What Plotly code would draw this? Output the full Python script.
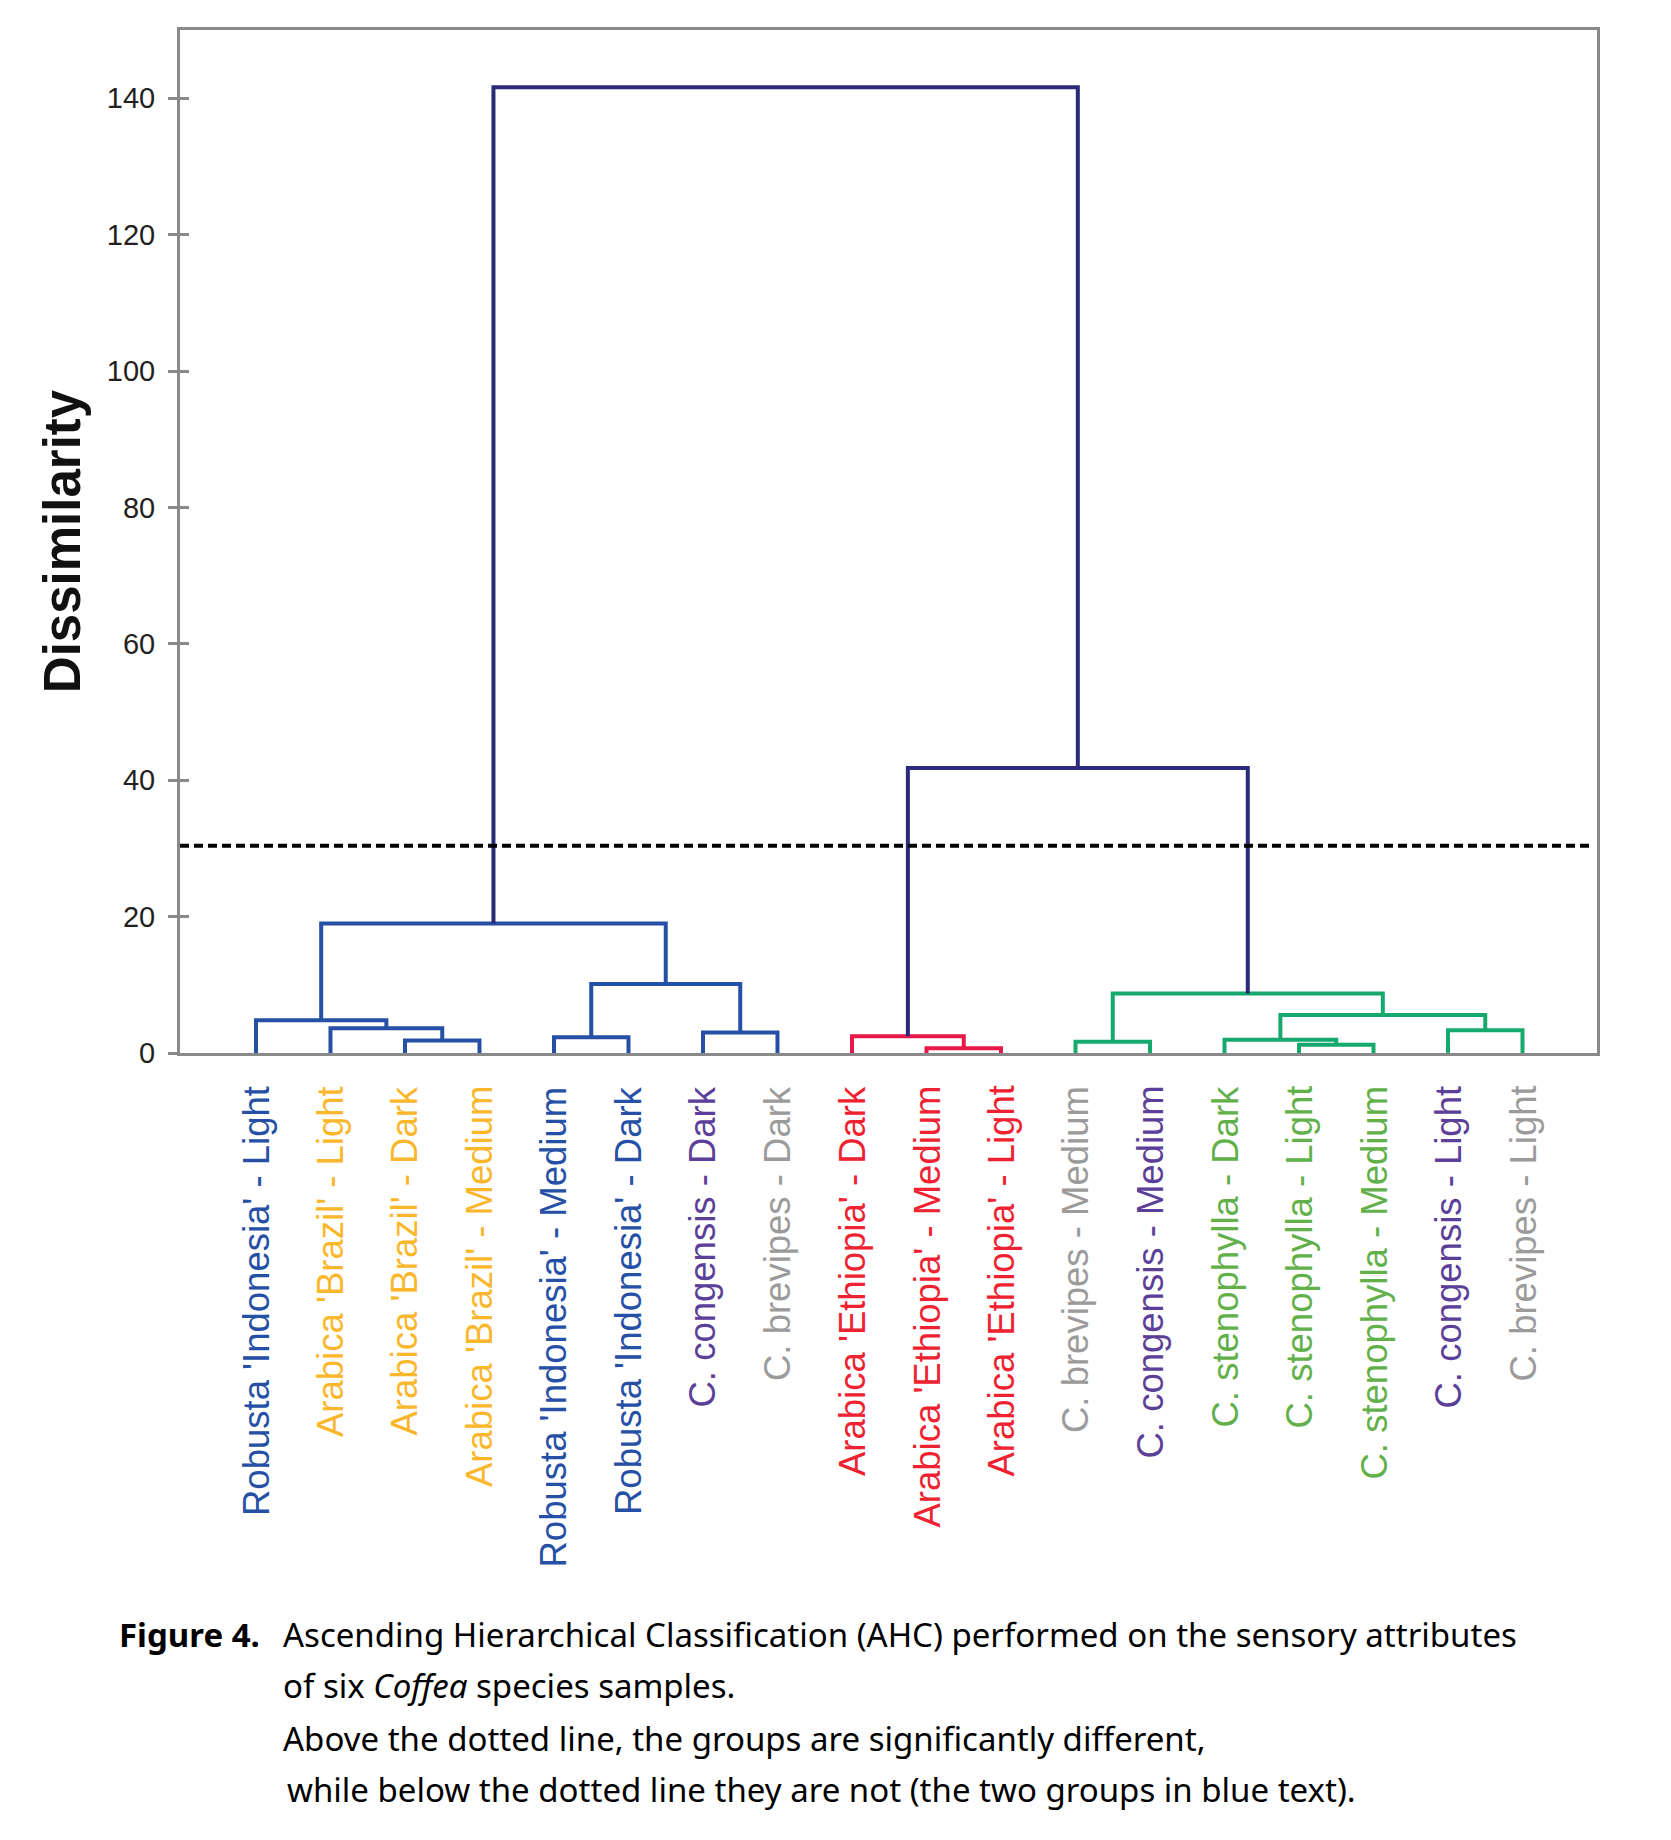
import plotly.graph_objects as go

# ---------------- data ----------------
leaf_labels = [
    "Robusta 'Indonesia' - Light", "Arabica 'Brazil' - Light", "Arabica 'Brazil' - Dark",
    "Arabica 'Brazil' - Medium", "Robusta 'Indonesia' - Medium", "Robusta 'Indonesia' - Dark",
    "C. congensis - Dark", "C. brevipes - Dark", "Arabica 'Ethiopia' - Dark",
    "Arabica 'Ethiopia' - Medium", "Arabica 'Ethiopia' - Light", "C. brevipes - Medium",
    "C. congensis - Medium", "C. stenophylla - Dark", "C. stenophylla - Light",
    "C. stenophylla - Medium", "C. congensis - Light", "C. brevipes - Light",
]
leaf_groups = ["robusta", "brazil", "brazil", "brazil", "robusta", "robusta",
               "congensis", "brevipes", "ethiopia", "ethiopia", "ethiopia", "brevipes",
               "congensis", "stenophylla", "stenophylla", "stenophylla", "congensis", "brevipes"]

# merges (scipy-like: leaves 0..17, merged node k gets index 18+k)
merge_left = [9, 14, 11, 2, 13, 4, 8, 6, 16, 1, 0, 22, 20, 23, 28, 24, 32]
merge_right = [10, 15, 12, 3, 19, 5, 18, 7, 17, 21, 27, 26, 29, 25, 31, 30, 33]
merge_height = [0.7, 1.2, 1.65, 1.85, 1.95, 2.3, 2.45, 3.0, 3.35, 3.62, 4.82,
                5.56, 8.72, 10.1, 19.0, 41.8, 141.6]
merge_cluster = ["red", "green", "green", "blue", "green", "blue", "red", "blue", "green",
                 "blue", "blue", "green", "green", "blue", "blue", "top", "top"]

cut_height = 30.4
y_ticks = [0, 20, 40, 60, 80, 100, 120, 140]

caption_lines = [
    "Ascending Hierarchical Classification (AHC) performed on the sensory attributes",
    "of six <i>Coffea</i> species samples.",
    "Above the dotted line, the groups are significantly different,",
    "while below the dotted line they are not (the two groups in blue text).",
]

# ---------------- styles ----------------
link_colors = {"blue": "#2550a5", "red": "#e8194a", "green": "#16a96e", "top": "#2b2a78"}
label_colors = {"robusta": "#2550a5", "brazil": "#fbb72c", "congensis": "#5b3f98",
                "brevipes": "#9b9b9b", "ethiopia": "#ee2231", "stenophylla": "#62b04a"}
AX = "#8a8a8a"
FONT = "Liberation Sans, Arial, Helvetica, sans-serif"

W, H = 1671, 1840
L, R, T, B = 172, 82, 22, 795
PW, PH = W - L - R, H - T - B


def px_x(px):
    return (px - L) / PW


def px_y(py):
    return (H - B - py) / PH


fig = go.Figure()

n = len(leaf_labels)
node_x = {i: float(i) for i in range(n)}
node_y = {i: 0.0 for i in range(n)}
for k, (a, b, h, c) in enumerate(zip(merge_left, merge_right, merge_height, merge_cluster)):
    node = n + k
    node_x[node] = (node_x[a] + node_x[b]) / 2
    node_y[node] = h
    fig.add_trace(go.Scatter(
        x=[node_x[a], node_x[a], node_x[b], node_x[b]],
        y=[node_y[a], h, h, node_y[b]],
        mode="lines", line=dict(color=link_colors[c], width=4),
        hoverinfo="skip", showlegend=False,
    ))

# significance cut line (drawn on the overlaid y-axis, which has the same fixed range)
fig.add_trace(go.Scatter(
    x=[-1.02, 17.92], y=[cut_height, cut_height], mode="lines", yaxis="y2",
    line=dict(color="#000000", width=4, dash="9px,5px"),
    hoverinfo="skip", showlegend=False,
))

annotations = []
for i, (lab, g) in enumerate(zip(leaf_labels, leaf_groups)):
    annotations.append(dict(
        x=i, y=0, xref="x", yref="y", text=lab, showarrow=False, textangle=-90,
        xanchor="center", yanchor="top", yshift=-31,
        font=dict(family=FONT, size=36.5, color=label_colors[g]),
    ))

CAP = "Noto Sans, Open Sans, sans-serif"
CAP_SIZE = 33
annotations.append(dict(
    x=px_x(109), y=px_y(1626), xref="paper", yref="paper", text="<b>Figure 4.</b>",
    showarrow=False, xanchor="left", yanchor="middle",
    font=dict(family=CAP, size=CAP_SIZE, color="#000000"),
))
cap_y = [1626, 1677, 1731, 1781]
cap_x = [273, 273, 273, 277]
for txt, cx, cy in zip(caption_lines, cap_x, cap_y):
    annotations.append(dict(
        x=px_x(cx), y=px_y(cy), xref="paper", yref="paper", text=txt,
        showarrow=False, xanchor="left", yanchor="middle",
        font=dict(family=CAP, size=CAP_SIZE, color="#000000"),
    ))

fig.update_layout(
    width=W, height=H, margin=dict(l=L, r=R, t=T, b=B, pad=0),
    paper_bgcolor="white", plot_bgcolor="white",
    annotations=annotations, showlegend=False,
    xaxis=dict(range=[-1.02, 18.0], showgrid=False, zeroline=False, showticklabels=False,
               ticks="", showline=True, linecolor=AX, linewidth=3, mirror=True,
               layer="below traces"),
    yaxis=dict(range=[0, 150], tickvals=y_ticks, ticktext=[str(v) for v in y_ticks],
               showgrid=False, zeroline=False, ticks="outside", ticklen=9, tickwidth=2.5,
               tickcolor=AX, tickfont=dict(family=FONT, size=29, color="#231f20"),
               ticklabelstandoff=7,
               showline=True, linecolor=AX, linewidth=3, mirror=True, layer="below traces",
               title=dict(text="<b>Dissimilarity</b>", standoff=10,
                          font=dict(family=FONT, size=51, color="#111111"))),
    # overlaid left axis draws the inner half of the crossing tick marks
    yaxis2=dict(range=[0, 150], tickvals=y_ticks, overlaying="y", side="left",
                showgrid=False, zeroline=False, ticks="inside", ticklen=9, tickwidth=2.5,
                tickcolor=AX, showticklabels=False, showline=False),
)

fig.write_html("out.html")
